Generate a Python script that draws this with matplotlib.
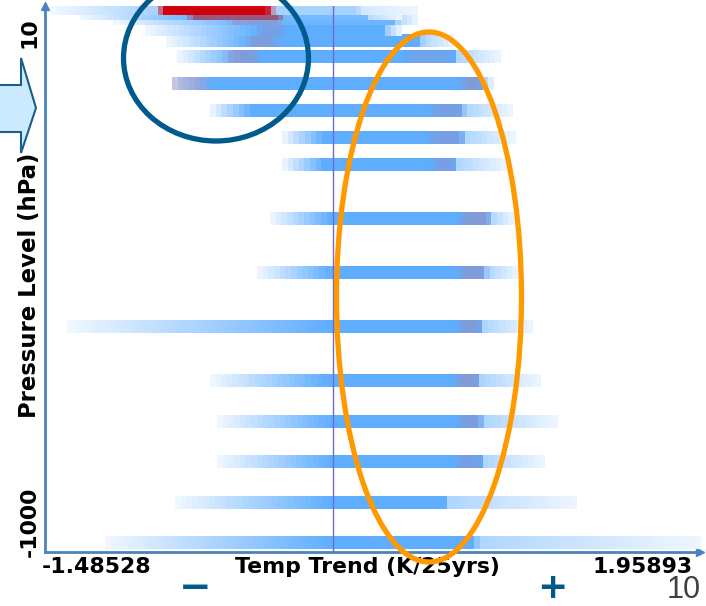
import numpy as np
import matplotlib.pyplot as plt
from matplotlib.patches import Ellipse, Polygon

# pressure levels (hPa) and trend distribution per level (K/25yrs)
levels = [10, 20, 30, 50, 70, 100, 150, 200, 250, 300, 400, 500, 600, 700, 775, 850, 925, 1000]
trend_lo = [-1.46, -1.30, -1.13, -0.96, -0.85, -0.79, -0.82, -0.62, -0.24, -0.24,
            -0.30, -0.37, -1.37, -0.62, -0.58, -0.58, -0.80, -1.17]
core_lo = [-0.90, -0.75, -0.45, -0.35, -0.40, -0.45, -0.62, -0.40, -0.02, -0.02,
           0.02, 0.02, 0.03, 0.00, 0.03, 0.03, 0.03, 0.03]
core_hi = [0.15, 0.20, 0.35, 0.30, 0.48, 0.66, 0.80, 0.70, 0.70, 0.66,
           0.84, 0.82, 0.80, 0.79, 0.80, 0.80, 0.62, 0.77]
trend_hi = [0.47, 0.39, 0.47, 0.39, 0.66, 0.91, 0.87, 0.97, 0.99, 0.94,
            0.98, 1.00, 1.08, 1.12, 1.21, 1.14, 1.31, 1.96]
peak = [0.55, 0.85, 0.9, 1.0, 1.0, 1.0, 1.0, 1.0, 1.0, 1.0,
        1.0, 1.0, 1.0, 1.0, 1.0, 1.0, 1.0, 1.0]

# highlighted spots: (start, end, strength, kind)
spot_cold = [(-0.88, -0.30, 1.0, "red"), (-0.72, -0.24, 0.85, "wine"), (-0.51, -0.25, 0.6, "purple"),
             (-0.36, -0.24, 0.45, "purple"), (-0.41, -0.28, 0.6, "purple"), (-0.52, -0.37, 0.6, "purple"),
             (-0.82, -0.64, 0.55, "purple"), None, None, None, None, None, None, None, None, None, None, None]
spot_warm = [None, None, None, None, None, (0.42, 0.64, 0.3, "purple"), (0.71, 0.80, 0.65, "purple"),
             (0.55, 0.70, 0.45, "purple"), (0.54, 0.70, 0.45, "purple"), (0.56, 0.66, 0.45, "purple"),
             (0.71, 0.84, 0.65, "purple"), (0.70, 0.82, 0.65, "purple"), (0.70, 0.80, 0.65, "purple"),
             (0.68, 0.79, 0.65, "purple"), (0.70, 0.80, 0.55, "purple"), (0.68, 0.80, 0.45, "purple"),
             None, None]

x_min, x_max = -1.48528, 1.95893
ref_line = 0.03
BLUE = np.array([0.37, 0.68, 1.0])
HOT = {"red": np.array([0.82, 0.0, 0.04]),
       "wine": np.array([0.62, 0.28, 0.40]),
       "purple": np.array([0.58, 0.57, 0.76])}


def bar_colors(x, i):
    t = np.interp(x, [trend_lo[i], core_lo[i], core_hi[i], core_hi[i] + 0.02, trend_hi[i]],
                  [0.08, peak[i], peak[i], 0.5 * peak[i], 0.1])
    rgb = 1 - t[:, None] * (1 - BLUE)
    for spot in (spot_cold[i], spot_warm[i]):
        if spot is None:
            continue
        s_lo, s_hi, amt, kind = spot
        w = np.clip(np.minimum(x - s_lo, s_hi - x) / 0.05 + 0.5, 0, 1) * amt
        rgb = rgb * (1 - w[:, None]) + HOT[kind] * w[:, None]
    return rgb


fig = plt.figure(figsize=(7.06, 6.06), dpi=100)
ax = fig.add_axes([45 / 706, 54 / 606, 655 / 706, 546 / 606])

step = 0.03
half_h = 11.5
# draw from the bottom level up so upper bars sit on top
for i in range(len(levels) - 1, -1, -1):
    n = max(int(np.ceil((trend_hi[i] - trend_lo[i]) / step)), 1)
    edges = np.linspace(trend_lo[i], trend_hi[i], n + 1)
    centers = (edges[:-1] + edges[1:]) / 2
    rgb = bar_colors(centers, i)
    ax.imshow(rgb[None, :, :], extent=(trend_lo[i], trend_hi[i], -levels[i] - half_h, -levels[i] + half_h),
              aspect="auto", interpolation="nearest", zorder=2 + (len(levels) - i) * 0.01)

ax.axvline(ref_line, color="#6B6BD0", lw=1, zorder=3)
ax.set_xlim(x_min, x_max)
ax.set_ylim(-1016.7, -5.6)

axis_col = "#4A84BE"
for side in ["top", "right"]:
    ax.spines[side].set_visible(False)
for side in ["left", "bottom"]:
    ax.spines[side].set_color(axis_col)
    ax.spines[side].set_linewidth(2)
ax.plot(1, 0, ">", color=axis_col, ms=6, transform=ax.transAxes, clip_on=False)
ax.plot(0, 1, "^", color=axis_col, ms=6, transform=ax.transAxes, clip_on=False)
ax.set_xticks([])
ax.set_yticks([])

lab = dict(fontsize=15.8, fontweight="bold", family="DejaVu Sans", color="black")
ax.text(-0.005, -0.0275, "-1.48528", ha="left", va="center", transform=ax.transAxes, **lab)
ax.text(0.988, -0.0275, "1.95893", ha="right", va="center", transform=ax.transAxes, **lab)
ax.text(0.4916, -0.0275, "Temp Trend (K/25yrs)", ha="center", va="center", transform=ax.transAxes, **lab)
ax.text(-0.023, -0.01, "-1000", rotation=90, ha="center", va="bottom", transform=ax.transAxes, **lab)
ax.text(-0.023, 0.951, "10", rotation=90, ha="center", va="center", transform=ax.transAxes, **lab)
ax.text(-0.023, 0.489, "Pressure Level (hPa)", rotation=90, ha="center", va="center",
        transform=ax.transAxes, fontsize=16.4, fontweight="bold", family="DejaVu Sans", color="black")

# overlay in pixel space for the slide annotations
ov = fig.add_axes([0, 0, 1, 1], zorder=5)
ov.set_xlim(0, 706)
ov.set_ylim(606, 0)
ov.axis("off")
ov.add_patch(Ellipse((216, 58), 185, 166, fill=False, ec="#005A8C", lw=3.8))
ov.add_patch(Ellipse((429, 297), 185, 530, fill=False, ec="#FF9900", lw=3.8))
ov.add_patch(Polygon([(-5, 85), (21, 85), (21, 58), (36, 108), (21, 153), (21, 132), (-5, 132)],
                     closed=True, fc="#CCEBFF", ec="#1B5E8A", lw=1.5))
ov.text(195, 588, "\u2212", ha="center", va="center", fontsize=28, fontweight="bold", color="#005A8C")
ov.text(552, 588, "+", ha="center", va="center", fontsize=26, fontweight="bold", color="#005A8C")
ov.text(667, 605, "10", ha="left", va="bottom", fontsize=22, family="Liberation Sans", color="#404040")

fig.savefig("out.png", dpi=100)
